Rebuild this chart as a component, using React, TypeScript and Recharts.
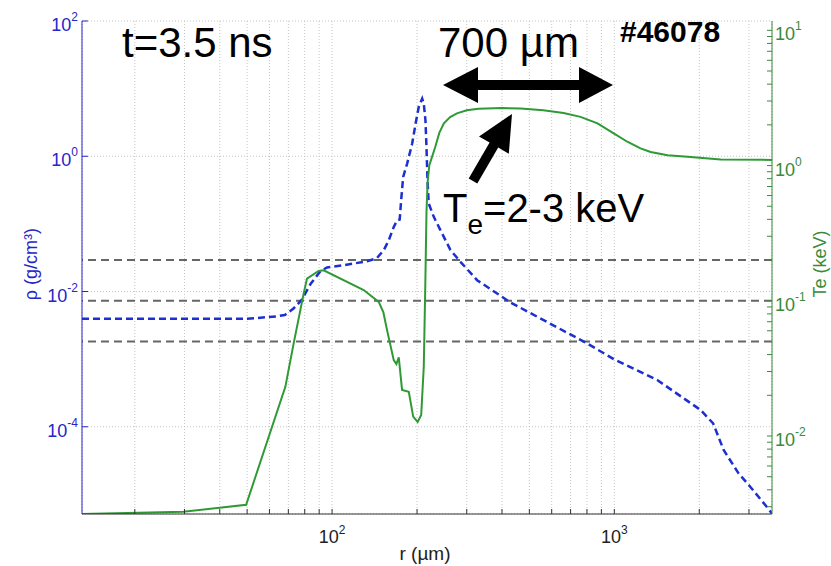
import React from 'react';
import { LineChart, Line, XAxis, YAxis, CartesianGrid, ReferenceLine } from 'recharts';

// density profile (blue dashed, left axis)
const rhoR = [13, 30, 50, 64, 68, 73, 78, 84, 91, 96, 110, 133, 144, 152.5, 158.7, 165.4, 170, 173.6, 175.7, 178.6, 184.5, 192.2, 197.7, 202.8, 208.6, 211.3, 214.2, 216, 217.8, 220, 229.3, 242, 262.7, 285, 326.5, 428.5, 801, 995, 1420, 2022, 2240, 2440, 2755, 3030, 3540, 3620];
const rhoVals = [0.00395, 0.00395, 0.00395, 0.0043, 0.0045, 0.0056, 0.0075, 0.013, 0.02, 0.0227, 0.0245, 0.028, 0.031, 0.041, 0.057, 0.09, 0.113, 0.116, 0.224, 0.495, 0.78, 1.54, 3.05, 5.36, 7.13, 6.0, 3.41, 1.37, 0.443, 0.2, 0.127, 0.081, 0.041, 0.0275, 0.0147, 0.0069, 0.00171, 0.001, 0.00049, 0.000177, 0.000112, 0.0000453, 0.0000205, 0.000013, 0.0000059, 0.0000052];

// electron temperature (green, right axis)
const teR = [13, 29.7, 49.6, 68.3, 73.1, 79.3, 81.5, 89.6, 93.4, 129.4, 146.3, 152, 156.6, 165.4, 169, 172.3, 177, 187, 193.8, 201, 206.9, 211.3, 214, 216, 218, 221, 232, 240, 249, 262, 277, 300, 330, 400, 466, 560, 661, 759, 872, 995, 1112, 1238, 1345, 1544, 1815, 2383, 3620];
const teVals = [0.00265, 0.00275, 0.0031, 0.0231, 0.0484, 0.113, 0.146, 0.166, 0.168, 0.12, 0.098, 0.082, 0.0607, 0.0364, 0.034, 0.0381, 0.0219, 0.0212, 0.0139, 0.0127, 0.0143, 0.0325, 0.134, 0.45, 0.75, 1.0, 1.37, 1.75, 2.05, 2.28, 2.43, 2.56, 2.63, 2.66, 2.64, 2.56, 2.45, 2.29, 2.05, 1.73, 1.5, 1.34, 1.26, 1.19, 1.16, 1.11, 1.1];

// dashed reference levels on Te axis (keV)
const teLevels = [0.2, 0.1, 0.05];

const xTicks = [20, 30, 40, 50, 60, 70, 80, 90, 100, 200, 300, 400, 500, 600, 700, 800, 900, 1000, 2000, 3000];
const leftTicks = [1e-4, 1e-2, 1, 100];
const rightTicks = [
  0.003, 0.004, 0.005, 0.006, 0.007, 0.008, 0.009,
  0.01, 0.02, 0.03, 0.04, 0.05, 0.06, 0.07, 0.08, 0.09,
  0.1, 0.2, 0.3, 0.4, 0.5, 0.6, 0.7, 0.8, 0.9,
  1, 2, 3, 4, 5, 6, 7, 8, 9, 10,
];

const rhoData = rhoR.map((r, i) => ({ r, rho: rhoVals[i] }));
const teData = teR.map((r, i) => ({ r, te: teVals[i] }));

const BLUE = '#2626c8';
const BLUE_LINE = '#1c2fd0';
const GREEN = '#3a8a3a';
const GREEN_LINE = '#2f9a35';
const FONT = '"Liberation Sans", Arial, sans-serif';

const expOf = (v: number) => {
  const e = Math.log10(v);
  return Math.abs(e - Math.round(e)) < 1e-6 ? Math.round(e) : null;
};

const BottomTick = (props: any) => {
  const { x, y, payload } = props;
  const e = expOf(payload.value);
  return (
    <g>
      <line x1={x} x2={x} y1={y} y2={y - 5} stroke="#333" />
      {e !== null && (
        <text x={x} y={y + 29} textAnchor="middle" fontSize={18} fill="#222">
          10<tspan dy={-9} fontSize={12}>{e}</tspan>
        </text>
      )}
    </g>
  );
};

const LeftTick = (props: any) => {
  const { x, y, payload } = props;
  const e = expOf(payload.value);
  return (
    <g>
      <line x1={x} x2={x + 6} y1={y} y2={y} stroke={BLUE} />
      {e !== null && (
        <text x={x - 4} y={y + 10} textAnchor="end" fontSize={18} fill={BLUE}>
          10<tspan dy={-10} fontSize={12}>{e}</tspan>
        </text>
      )}
    </g>
  );
};

const RightTick = (props: any) => {
  const { x, y, payload } = props;
  const e = expOf(payload.value);
  return (
    <g>
      <line x1={x - 5} x2={x} y1={y} y2={y} stroke={GREEN} />
      {e !== null && (
        <text x={x + 3} y={y + 10} textAnchor="start" fontSize={18} fill={GREEN}>
          10<tspan dy={-10} fontSize={12}>{e}</tspan>
        </text>
      )}
    </g>
  );
};

export default function App() {
  return (
    <div style={{ position: 'absolute', left: 0, top: 0, width: 831, height: 566, background: '#fff', fontFamily: FONT }}>
      <LineChart width={831} height={566} margin={{ top: 21, right: 10, bottom: 22, left: 10 }}>
        <CartesianGrid yAxisId="left" stroke="#c4c4c4" strokeDasharray="1 2" />
        <XAxis
          type="number"
          dataKey="r"
          scale="log"
          domain={[13, 3620]}
          allowDataOverflow
          ticks={xTicks}
          interval={0}
          height={30}
          tickSize={0}
          tickMargin={0}
          tickLine={false}
          stroke="#333"
          tick={BottomTick}
        />
        <YAxis
          yAxisId="left"
          orientation="left"
          type="number"
          scale="log"
          domain={[5.13e-6, 100]}
          allowDataOverflow
          ticks={leftTicks}
          interval={0}
          width={72}
          tickSize={0}
          tickMargin={0}
          tickLine={false}
          stroke={BLUE}
          tick={LeftTick}
        />
        <YAxis
          yAxisId="right"
          orientation="right"
          type="number"
          scale="log"
          domain={[2.65e-3, 11.72]}
          allowDataOverflow
          ticks={rightTicks}
          interval={0}
          width={49}
          tickSize={0}
          tickMargin={0}
          tickLine={false}
          stroke={GREEN}
          tick={RightTick}
        />
        {teLevels.map((v) => (
          <ReferenceLine key={v} yAxisId="right" y={v} stroke="#666" strokeWidth={2} strokeDasharray="8 5" />
        ))}
        <Line
          yAxisId="left"
          data={rhoData}
          dataKey="rho"
          type="linear"
          stroke={BLUE_LINE}
          strokeWidth={2.5}
          strokeDasharray="7 4"
          dot={false}
          isAnimationActive={false}
        />
        <Line
          yAxisId="right"
          data={teData}
          dataKey="te"
          type="linear"
          stroke={GREEN_LINE}
          strokeWidth={2}
          dot={false}
          isAnimationActive={false}
        />
      </LineChart>

      {/* annotations and axis titles */}
      <svg width={831} height={566} style={{ position: 'absolute', left: 0, top: 0, pointerEvents: 'none' }} fontFamily={FONT}>
        <text x={122} y={57} fontSize={42} fill="#000">t=3.5 ns</text>
        <text x={438} y={57} fontSize={42} fill="#000">700 µm</text>
        <text x={620} y={42} fontSize={30} fontWeight="bold" fill="#000">#46078</text>
        <text x={443} y={222} fontSize={40} fill="#000">
          T<tspan dy={12} fontSize={28}>e</tspan><tspan dy={-12}>=2-3 keV</tspan>
        </text>
        <polygon
          points="443,85 478,67 478,80 579,80 579,67 613,85 579,103 579,90 478,90 478,103"
          fill="#000"
        />
        <polygon
          points="512,114 508.8,153.8 498.2,147.6 477.3,183.5 468.7,178.5 489.6,142.6 479,136.5"
          fill="#000"
        />
        <text x={425} y={560} textAnchor="middle" fontSize={19} fill="#222">r (µm)</text>
        <text x={37} y={264} textAnchor="middle" fontSize={18} fill={BLUE} transform="rotate(-90 37 264)">ρ (g/cm³)</text>
        <text x={826} y={264} textAnchor="middle" fontSize={18} fill={GREEN} transform="rotate(-90 826 264)">Te (keV)</text>
      </svg>
    </div>
  );
}
